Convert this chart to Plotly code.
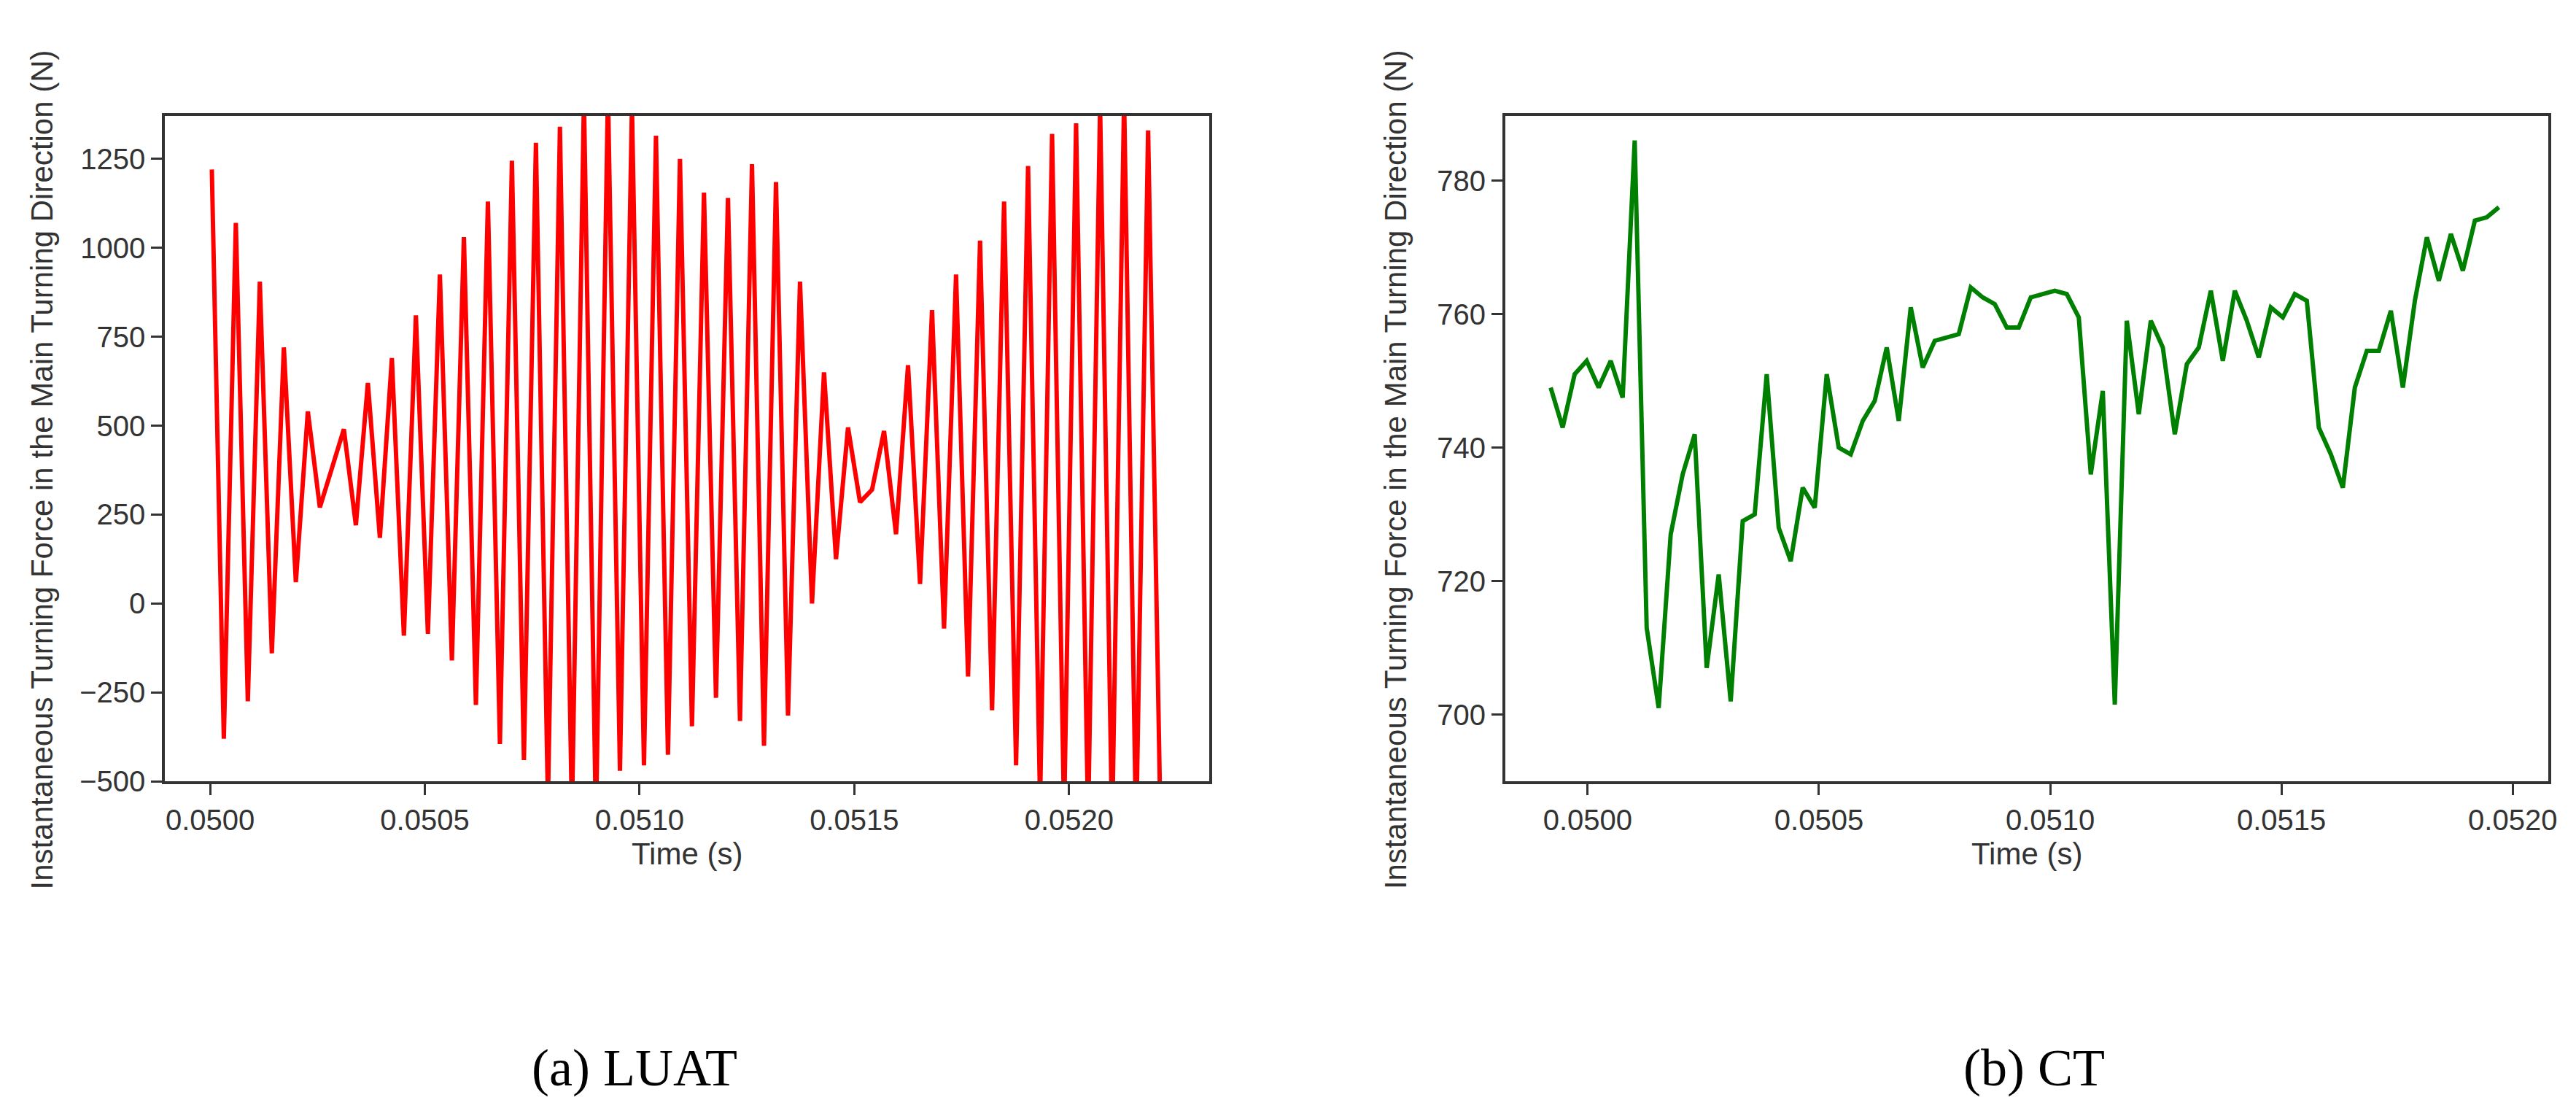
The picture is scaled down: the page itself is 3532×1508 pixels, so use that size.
import numpy as np
import plotly.graph_objects as go

# (a) LUAT force values (N), uniformly sampled in time
luat_force = [1220, -380, 1070, -275, 905, -140, 720, 60, 540, 270, 380, 490,
              220, 620, 185, 690, -90, 810, -85, 925, -160, 1030, -285, 1130,
              -395, 1245, -440, 1295, -560, 1340, -600, 1420, -620, 1440, -470,
              1400, -455, 1315, -425, 1250, -345, 1155, -265, 1140, -330, 1235,
              -400, 1185, -315, 905, 0, 650, 125, 495, 285, 320, 485, 195, 670,
              55, 825, -70, 925, -205, 1020, -300, 1130, -455, 1230, -560, 1320,
              -600, 1350, -620, 1400, -640, 1420, -650, 1330, -560]
luat_t_start, luat_t_end = 0.050004, 0.052212

# (b) CT force values (N)
ct_force = [749, 743, 751, 753, 749, 753, 747.5, 786, 713, 701, 727, 736, 742,
            707, 721, 702, 729, 730, 751, 728, 723, 734, 731, 751, 740, 739, 744,
            747, 755, 744, 761, 752, 756, 756.5, 757, 764, 762.5, 761.5, 758, 758,
            762.5, 763, 763.5, 763, 759.5, 736, 748.5, 701.5, 759, 745, 759, 755,
            742, 752.5, 755, 763.5, 753, 763.5, 759, 753.5, 761, 759.5, 763, 762,
            743, 739, 734, 749, 754.5, 754.5, 760.5, 749, 762, 771.5, 765, 772,
            766.5, 774, 774.5, 776]
ct_t_start, ct_t_end = 0.04992, 0.051970

x_ticks = [0.0500, 0.0505, 0.0510, 0.0515, 0.0520]
x_tick_labels = ["0.0500", "0.0505", "0.0510", "0.0515", "0.0520"]
luat_y_ticks = [-500, -250, 0, 250, 500, 750, 1000, 1250]
ct_y_ticks = [700, 720, 740, 760, 780]

t_luat = np.linspace(luat_t_start, luat_t_end, len(luat_force))
t_ct = np.linspace(ct_t_start, ct_t_end, len(ct_force))

W, H = 3532, 1508
fig = go.Figure()
fig.add_trace(go.Scatter(x=t_luat, y=luat_force, mode="lines",
                         line=dict(color="#ff0000", width=6), xaxis="x", yaxis="y"))
fig.add_trace(go.Scatter(x=t_ct, y=ct_force, mode="lines",
                         line=dict(color="#008000", width=6), xaxis="x2", yaxis="y2"))

fnt = dict(family="Liberation Sans, Arial, sans-serif", size=40, color="#333333")
ydom = [1 - 1079 / H, 1 - 153 / H]
common = dict(showgrid=False, zeroline=False, showline=True, linecolor="#333333",
              linewidth=4, mirror=True, ticks="outside", ticklen=15, tickwidth=3,
              tickcolor="#333333", tickfont=fnt)
fig.update_layout(
    width=W, height=H, margin=dict(l=0, r=0, t=0, b=0),
    paper_bgcolor="white", plot_bgcolor="white", showlegend=False,
    xaxis=dict(domain=[219 / W, 1656 / W], range=[0.049895, 0.052327],
               tickvals=x_ticks, ticktext=x_tick_labels, anchor="y", **common),
    yaxis=dict(domain=ydom, range=[-500, 1371], tickvals=luat_y_ticks, anchor="x", **common),
    xaxis2=dict(domain=[2063 / W, 3498 / W], range=[0.049822, 0.052077],
                tickvals=x_ticks, ticktext=x_tick_labels, anchor="y2", **common),
    yaxis2=dict(domain=ydom, range=[690, 789.7], tickvals=ct_y_ticks, anchor="x2", **common),
)

ylab = "Instantaneous Turning Force in the Main Turning Direction (N)"
ylab_font = dict(fnt, size=42)
yc = 1 - 645 / H
for xp in [50, 1912]:
    fig.add_annotation(text=ylab, xref="paper", yref="paper", x=xp / W, y=yc,
                       textangle=-90, showarrow=False, font=ylab_font,
                       xanchor="center", yanchor="middle")
for xp in [(219 + 1656) / 2, (2063 + 3498) / 2]:
    fig.add_annotation(text="Time (s)", xref="paper", yref="paper", x=xp / W,
                       y=1 - 1180 / H, showarrow=False, font=ylab_font,
                       xanchor="center", yanchor="middle")
cap = dict(family="Liberation Serif, Times New Roman, serif", size=72, color="black")
fig.add_annotation(text="(a) LUAT", xref="paper", yref="paper", x=865 / W, y=1 - 1478 / H,
                   showarrow=False, font=cap, xanchor="center", yanchor="middle")
fig.add_annotation(text="(b) CT", xref="paper", yref="paper", x=2790 / W, y=1 - 1478 / H,
                   showarrow=False, font=cap, xanchor="center", yanchor="middle")

fig.write_html("out.html")
